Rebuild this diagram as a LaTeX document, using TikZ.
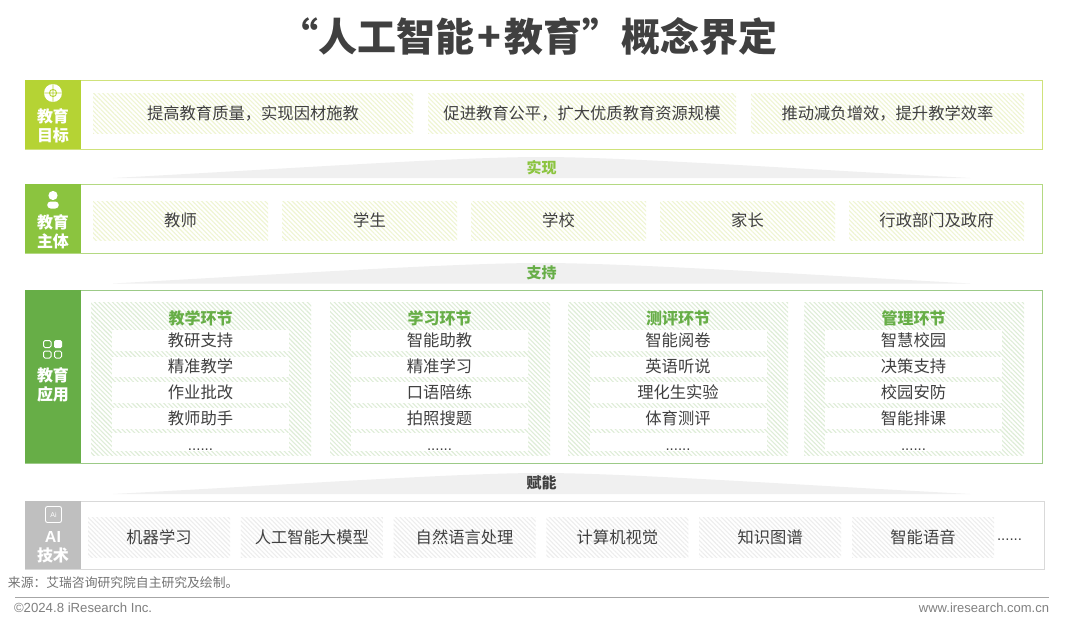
\documentclass[tikz,border=0pt]{standalone}
\usepackage{fontspec}
\usepackage{xcolor}
\setmainfont{Noto Sans CJK SC}
\newfontfamily\latinfont{Liberation Sans}
\usetikzlibrary{positioning, patterns.meta}
\definecolor{limegreen}{RGB}{181, 211, 52}
\definecolor{midgreen}{RGB}{139, 196, 63}
\definecolor{deepgreen}{RGB}{103, 174, 71}
\definecolor{tagsilver}{RGB}{191, 191, 191}
\definecolor{darktext}{RGB}{64, 64, 64}
\definecolor{wedgegray}{RGB}{240, 240, 240}

\begin{document}
\begin{tikzpicture}[
    x=1pt, y=-1pt,
    every node/.style={outer sep=0pt, inner sep=0pt, text=darktext},
    frame/.style={rectangle, draw=#1, line width=1pt, fill=white, anchor=north west, minimum width=1017pt},
    tagbox/.style={rectangle, fill=#1, anchor=north west, minimum width=56pt},
    tagtext/.style={font=\fontsize{16}{19.5}\selectfont\bfseries, text=white, align=center},
    hatched/.style={rectangle, anchor=north west, font=\fontsize{16.3}{18}\selectfont,
                pattern={Lines[angle=-45, distance=3.2pt, line width=1.1pt]}, pattern color=#1},
    rowline/.style={rectangle, fill=white, minimum width=177pt, font=\fontsize{16.3}{18}\selectfont},
    wedge/.style={fill=wedgegray, draw=none},
    linktext/.style={font=\fontsize{15}{18}\selectfont\bfseries, text=#1},
    panelhead/.style={font=\fontsize{16}{18}\selectfont\bfseries, text=deepgreen},
    dotstext/.style={font=\latinfont\fontsize{15}{16}\selectfont}
]
\useasboundingbox (0,0) rectangle (1080,624);
\fill[white] (0,0) rectangle (1080,624);

% title
\node[font=\fontsize{39}{42}\selectfont\bfseries] (title) at (528.5,36.5) {“人工智能\hspace{3pt}+\hspace{3pt}教育”概念界定};

% wedges
\path[wedge] (113,178) .. controls (300,168) and (460,157) .. (541,157) .. controls (622,157) and (782,168) .. (970,178) -- cycle;
\path[wedge] (113,283.5) .. controls (300,273) and (460,263) .. (541,263) .. controls (622,263) and (782,273) .. (970,283.5) -- cycle;
\path[wedge] (113,494) .. controls (300,484) and (460,473) .. (541,473) .. controls (622,473) and (782,484) .. (970,494) -- cycle;
\node[linktext=midgreen] (shixian) at (541.5,167.5) {实现};
\node[linktext=deepgreen] (zhichi) at (541.5,272.5) {支持};
\node[linktext=darktext] (funeng) at (541.5,483) {赋能};

% goal tier
\node[frame={limegreen!65}, minimum height=69pt] (goal) at (25,80) {};
\node[tagbox=limegreen, minimum height=69pt] (goaltag) at (25,80) {};
\node[tagtext] (goallabel) at (53,126) {教育\\目标};
\node[hatched={limegreen!22}, minimum width=320pt, minimum height=40pt] (g1) at (93,93) {提高教育质量，实现因材施教};
\node[hatched={limegreen!22}, minimum width=308pt, minimum height=40pt, right=15pt of g1] (g2) {促进教育公平，扩大优质教育资源规模};
\node[hatched={limegreen!22}, minimum width=273pt, minimum height=40pt, right=15pt of g2] (g3) {推动减负增效，提升教学效率};
\fill[white] (53,93) circle (9pt);
\draw[limegreen, line width=0.9pt] (53,93) circle (3.6pt) (43.5,93) -- (62.5,93) (53,83.5) -- (53,102.5);

% subject tier
\node[frame={midgreen!65}, minimum height=69pt] (subject) at (25,184) {};
\node[tagbox=midgreen, minimum height=69pt] (subjecttag) at (25,184) {};
\node[tagtext] (subjectlabel) at (53,232) {教育\\主体};
\node[hatched={limegreen!22}, minimum width=175pt, minimum height=39pt] (s1) at (93,201) {教师};
\node[hatched={limegreen!22}, minimum width=175pt, minimum height=39pt, right=14pt of s1] (s2) {学生};
\node[hatched={limegreen!22}, minimum width=175pt, minimum height=39pt, right=14pt of s2] (s3) {学校};
\node[hatched={limegreen!22}, minimum width=175pt, minimum height=39pt, right=14pt of s3] (s4) {家长};
\node[hatched={limegreen!22}, minimum width=175pt, minimum height=39pt, right=14pt of s4] (s5) {行政部门及政府};
\fill[white] (53,195.5) circle (4.6pt);
\fill[white, rounded corners=3.5pt] (47.2,201.5) rectangle (58.8,208.5);

% application tier
\node[frame={deepgreen!65}, minimum height=173pt] (app) at (25,290) {};
\node[tagbox=deepgreen, minimum height=173pt] (apptag) at (25,290) {};
\node[tagtext] (applabel) at (53,385) {教育\\应用};
\draw[white, line width=1pt, rounded corners=1.5pt] (43.5,340.5) rectangle (51,347.5);
\fill[white, rounded corners=1.5pt] (54,340) rectangle (62,348);
\draw[white, line width=1pt, rounded corners=1.5pt] (43.5,351) rectangle (51,358);
\draw[white, line width=1pt, rounded corners=1.5pt] (54.5,351) rectangle (61.5,358);

\node[hatched={deepgreen!22}, minimum width=220pt, minimum height=153pt] (p1) at (91,302) {};
\node[hatched={deepgreen!22}, minimum width=220pt, minimum height=153pt] (p2) at (330,302) {};
\node[hatched={deepgreen!22}, minimum width=220pt, minimum height=153pt] (p3) at (568,302) {};
\node[hatched={deepgreen!22}, minimum width=220pt, minimum height=153pt] (p4) at (804,302) {};

\node[panelhead] (h1) at (200.5,318) {教学环节};
\node[rowline, minimum height=21pt, below=4.5pt of h1] (r11) {教研支持};
\node[rowline, minimum height=20pt, below=5.5pt of r11] (r12) {精准教学};
\node[rowline, minimum height=21pt, below=5.5pt of r12] (r13) {作业批改};
\node[rowline, minimum height=21pt, below=5pt of r13] (r14) {教师助手};
\node[rowline, minimum height=18pt, below=4pt of r14] (r15) {};
\node[dotstext, yshift=-7.5pt] (d1) at (r15) {......};

\node[panelhead] (h2) at (439.5,318) {学习环节};
\node[rowline, minimum height=21pt, below=4.5pt of h2] (r21) {智能助教};
\node[rowline, minimum height=20pt, below=5.5pt of r21] (r22) {精准学习};
\node[rowline, minimum height=21pt, below=5.5pt of r22] (r23) {口语陪练};
\node[rowline, minimum height=21pt, below=5pt of r23] (r24) {拍照搜题};
\node[rowline, minimum height=18pt, below=4pt of r24] (r25) {};
\node[dotstext, yshift=-7.5pt] (d2) at (r25) {......};

\node[panelhead] (h3) at (678,318) {测评环节};
\node[rowline, minimum height=21pt, below=4.5pt of h3] (r31) {智能阅卷};
\node[rowline, minimum height=20pt, below=5.5pt of r31] (r32) {英语听说};
\node[rowline, minimum height=21pt, below=5.5pt of r32] (r33) {理化生实验};
\node[rowline, minimum height=21pt, below=5pt of r33] (r34) {体育测评};
\node[rowline, minimum height=18pt, below=4pt of r34] (r35) {};
\node[dotstext, yshift=-7.5pt] (d3) at (r35) {......};

\node[panelhead] (h4) at (913.5,318) {管理环节};
\node[rowline, minimum height=21pt, below=4.5pt of h4] (r41) {智慧校园};
\node[rowline, minimum height=20pt, below=5.5pt of r41] (r42) {决策支持};
\node[rowline, minimum height=21pt, below=5.5pt of r42] (r43) {校园安防};
\node[rowline, minimum height=21pt, below=5pt of r43] (r44) {智能排课};
\node[rowline, minimum height=18pt, below=4pt of r44] (r45) {};
\node[dotstext, yshift=-7.5pt] (d4) at (r45) {......};

% technology tier
\node[frame={black!15}, minimum width=1019pt, minimum height=68pt] (tech) at (25,501) {};
\node[tagbox=tagsilver, minimum height=68pt] (techtag) at (25,501) {};
\node[tagtext] (techlabel) at (53,547.5) {{\latinfont AI}\\技术};
\draw[white, line width=0.9pt, rounded corners=2pt] (45.5,506.5) rectangle (61.5,522.5);
\node[font=\latinfont\fontsize{7}{8}\selectfont, text=white] (techicon) at (53.5,514.5) {Ai};
\node[hatched={black!7}, minimum width=142pt, minimum height=40pt] (t1) at (88,517) {机器学习};
\node[hatched={black!7}, minimum width=142pt, minimum height=40pt, right=10.8pt of t1] (t2) {人工智能大模型};
\node[hatched={black!7}, minimum width=142pt, minimum height=40pt, right=10.8pt of t2] (t3) {自然语言处理};
\node[hatched={black!7}, minimum width=142pt, minimum height=40pt, right=10.8pt of t3] (t4) {计算机视觉};
\node[hatched={black!7}, minimum width=142pt, minimum height=40pt, right=10.8pt of t4] (t5) {知识图谱};
\node[hatched={black!7}, minimum width=142pt, minimum height=40pt, right=10.8pt of t5] (t6) {智能语音};
\node[dotstext] (t7) at (1009.5,540) {......};

% footer
\node[font=\fontsize{12.8}{15}\selectfont, text=black!55, anchor=west] (source) at (8,583) {来源：艾瑞咨询研究院自主研究及绘制。};
\coordinate (ruleleft) at (15,597);
\coordinate (ruleright) at (1049,597);
\draw[black!35, line width=0.8pt] (ruleleft) -- (ruleright);
\node[font=\latinfont\fontsize{13.2}{15}\selectfont, text=black!50, anchor=west] (copyright) at (14,608) {©2024.8 iResearch Inc.};
\node[font=\latinfont\fontsize{13}{15}\selectfont, text=black!50, anchor=east] (website) at (1049,608) {www.iresearch.com.cn};

\end{tikzpicture}
\end{document}
